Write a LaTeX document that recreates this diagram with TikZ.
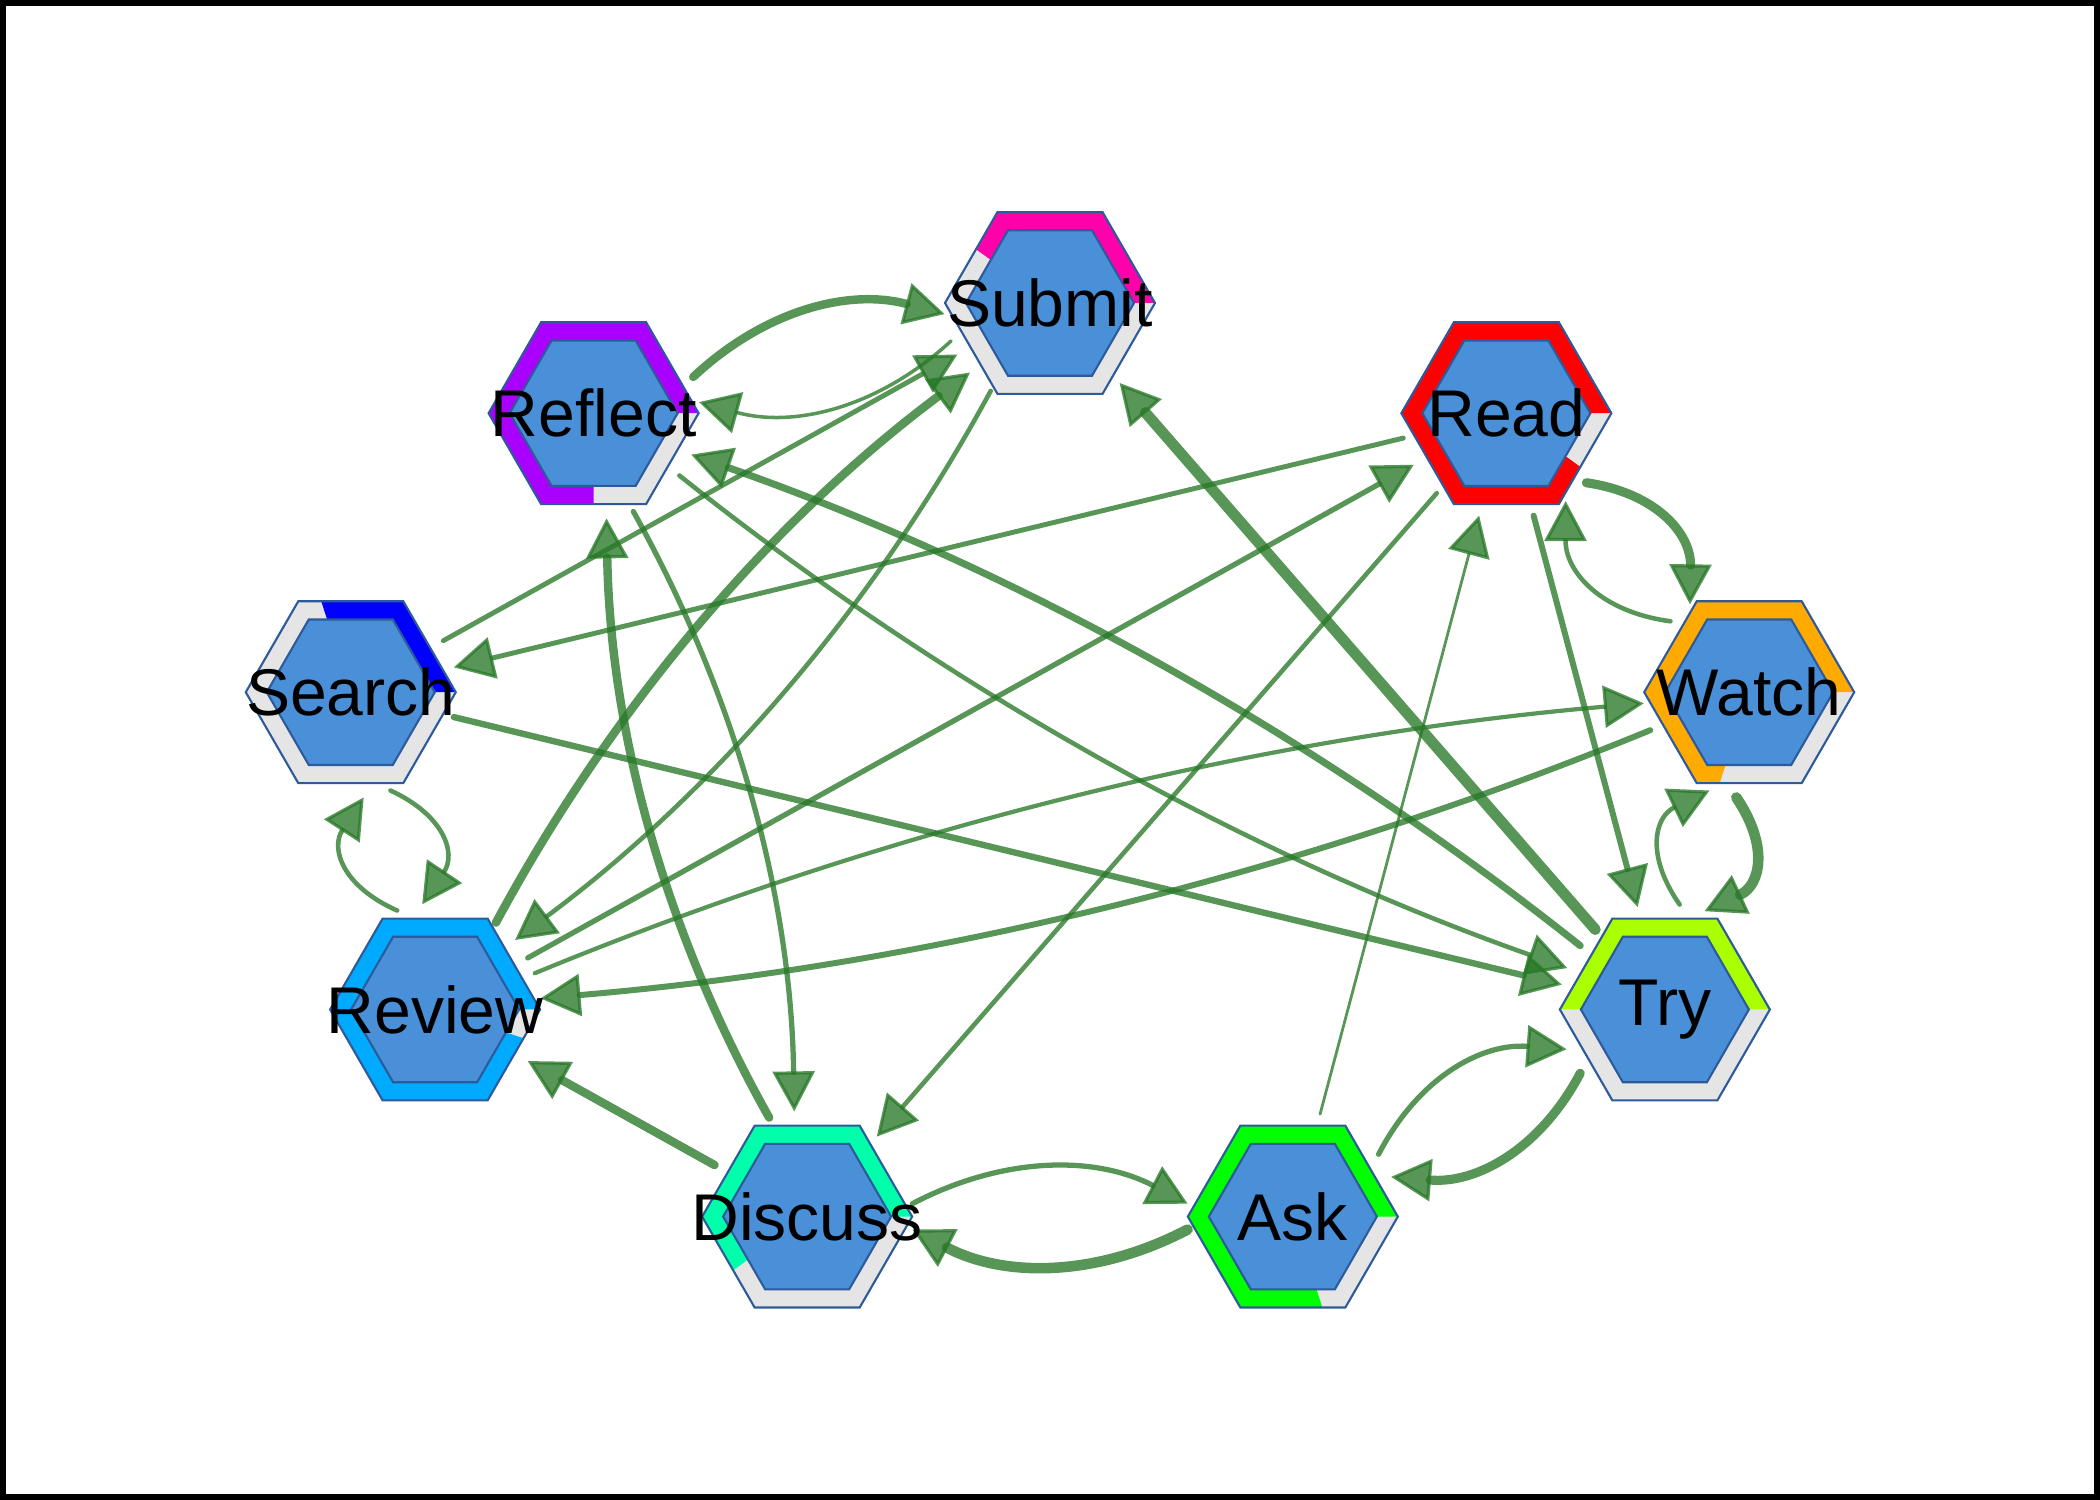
\documentclass[tikz,border=0pt]{standalone}
\usepackage{fontspec}
\setmainfont{Liberation Sans}
\usetikzlibrary{arrows.meta,calc,backgrounds}
\definecolor{hexBlue}{RGB}{74,144,217}
\definecolor{hexLine}{RGB}{45,90,155}
\definecolor{ringGray}{RGB}{229,229,229}
\definecolor{edgeGreen}{RGB}{40,120,40}
\definecolor{cRead}{RGB}{255,0,0}
\definecolor{cWatch}{RGB}{255,170,0}
\definecolor{cTry}{RGB}{170,255,0}
\definecolor{cAsk}{RGB}{0,255,0}
\definecolor{cDiscuss}{RGB}{0,255,170}
\definecolor{cReview}{RGB}{0,170,255}
\definecolor{cSearch}{RGB}{0,0,255}
\definecolor{cReflect}{RGB}{170,0,255}
\definecolor{cSubmit}{RGB}{255,0,170}
\newcommand{\hexpath}[1]{(0:#1) -- (60:#1) -- (120:#1) -- (180:#1) -- (240:#1) -- (300:#1) -- cycle}
\newcommand{\hexnode}[5]{%
  \begin{scope}[shift={(#2:7.1 and 4.71)}]
    \fill[ringGray] \hexpath{1.05};
    \begin{scope}
      \clip \hexpath{1.05};
      \fill[#3] (0,0) -- (0:1.3) arc[start angle=0,end angle=#4,radius=1.3] -- cycle;
    \end{scope}
    \draw[hexline,fill=hexBlue] \hexpath{0.84};
    \draw[hexline] \hexpath{1.05};
  \end{scope}
  \node[vertex,label={[nodetext]center:#5}] (#1) at (#2:7.1 and 4.71) {};
}
\newcommand{\bendedge}[4]{%
  \draw[conn,line width=#3] let \p1=($(#2)-(#1)$), \n1={atan2(\y1,\x1)+7*#4/90},
    \n2={atan2(\y1,\x1)+180-7*#4/90}, \n3={12+0.012*veclen(\x1,\y1)},
    \p2=(#1.\n1), \p3=(#2.\n2) in
    (\p2) .. controls ($(\p2)!0.333!(\p3)!\n3!#4:(\p3)$)
             and ($(\p2)!0.667!(\p3)!\n3!#4:(\p3)$) .. (\p3);
}

\begin{document}
\begin{tikzpicture}[
    vertex/.style={circle,minimum size=2.12cm,inner sep=0pt,outer sep=0pt},
    nodetext/.style={font=\fontsize{18.8}{20}\selectfont,text=black,inner sep=0pt},
    hexline/.style={draw=hexLine,line width=0.6pt},
    conn/.style={draw=edgeGreen,opacity=0.78,line cap=round,
                 -{Triangle[length=4mm,width=4.2mm,line width=0.9pt]}}
  ]
  \useasboundingbox (0,0) rectangle (21,15);
  \draw[line width=0.06cm] (0.03,0.03) rectangle (20.97,14.97);
  \begin{scope}[shift={(10.5,7.26)}]
    \hexnode{sub}{90}{cSubmit}{144}{Submit}
    \hexnode{rea}{50}{cRead}{324}{Read}
    \hexnode{wat}{10}{cWatch}{252}{Watch}
    \hexnode{try}{-30}{cTry}{180}{Try}
    \hexnode{ask}{-70}{cAsk}{288}{Ask}
    \hexnode{dis}{-110}{cDiscuss}{216}{Discuss}
    \hexnode{rev}{-150}{cReview}{342}{Review}
    \hexnode{sea}{170}{cSearch}{108}{Search}
    \hexnode{ref}{130}{cReflect}{270}{Reflect}

    \begin{scope}[on background layer]
      \bendedge{ref}{sub}{2.4pt}{90}
      \bendedge{sub}{ref}{1.0pt}{90}
      \draw[conn,line width=1.4pt] (sea) -- (sub);
      \bendedge{rev}{sub}{2.4pt}{90}
      \bendedge{sub}{rev}{1.3pt}{90}
      \bendedge{ref}{try}{1.3pt}{-90}
      \bendedge{try}{ref}{2.0pt}{-90}
      \draw[conn,line width=3.1pt] (try) -- (sub);
      \draw[conn,line width=1.8pt] (sea) -- (try);
      \draw[conn,line width=1.4pt] (rea) -- (sea);
      \draw[conn,line width=1.5pt] (rev) -- (rea);
      \draw[conn,line width=1.3pt] (rea) -- (dis);
      \draw[conn,line width=0.8pt] (ask) -- (rea);
      \draw[conn,line width=1.7pt] (rea) -- (try);
      \bendedge{rea}{wat}{2.6pt}{90}
      \bendedge{wat}{rea}{1.3pt}{90}
      \bendedge{rev}{wat}{1.2pt}{90}
      \bendedge{wat}{rev}{1.7pt}{90}
      \bendedge{wat}{try}{3.0pt}{90}
      \bendedge{try}{wat}{1.3pt}{90}
      \bendedge{try}{ask}{2.6pt}{90}
      \bendedge{ask}{try}{1.5pt}{90}
      \bendedge{dis}{ask}{1.5pt}{90}
      \bendedge{ask}{dis}{3.0pt}{90}
      \draw[conn,line width=2.4pt] (dis) -- (rev);
      \bendedge{dis}{ref}{2.4pt}{90}
      \bendedge{ref}{dis}{1.5pt}{90}
      \bendedge{sea}{rev}{1.3pt}{90}
      \bendedge{rev}{sea}{1.3pt}{90}
    \end{scope}
  \end{scope}
\end{tikzpicture}
\end{document}
